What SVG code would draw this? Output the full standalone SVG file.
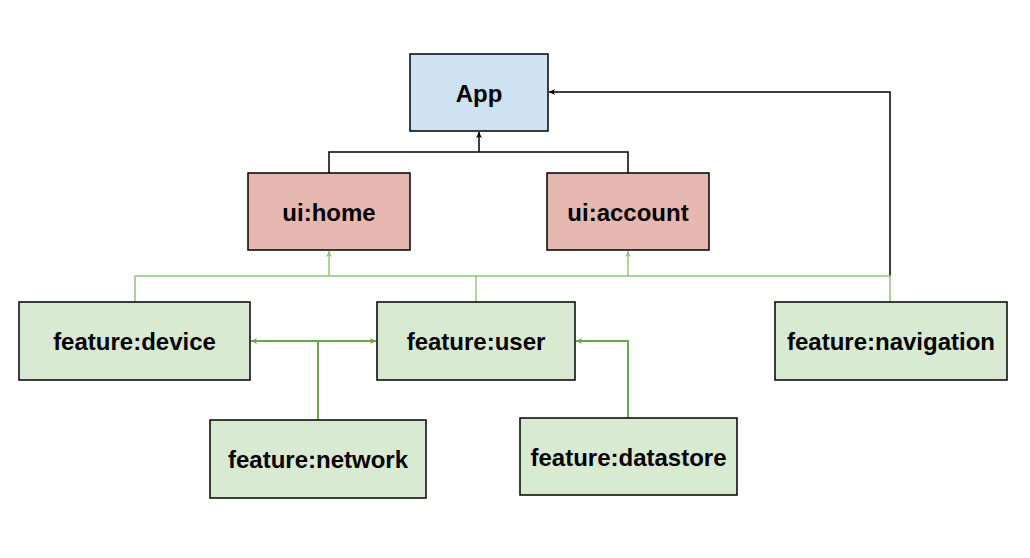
<svg xmlns="http://www.w3.org/2000/svg" width="1030" height="558" viewBox="0 0 1030 558">
<style>
.box{stroke:#000;stroke-width:1.5}
.blue{fill:#cfe2f3}
.red{fill:#e6b8af}
.green{fill:#d9ead3}
.lbl{font-family:"Liberation Sans",Arial,sans-serif;font-weight:bold;font-size:24px;text-anchor:middle;fill:#000}
.cb{fill:none;stroke:#000;stroke-width:1.5}
.cg{fill:none;stroke:#93c47d;stroke-width:1.5}
.cd{fill:none;stroke:#6aa84f;stroke-width:2}
</style>
<defs>
<marker id="ab" markerUnits="userSpaceOnUse" markerWidth="8" markerHeight="8" refX="6" refY="4" orient="auto"><path d="M0,1 L6,4 L0,7 L1.5,4 z" fill="#000"/></marker>
<marker id="ag" markerUnits="userSpaceOnUse" markerWidth="8" markerHeight="8" refX="6" refY="4" orient="auto"><path d="M0,1 L6,4 L0,7 L1.5,4 z" fill="#93c47d"/></marker>
<marker id="ad" markerUnits="userSpaceOnUse" markerWidth="8" markerHeight="8" refX="6" refY="4" orient="auto"><path d="M0,1 L6,4 L0,7 L1.5,4 z" fill="#6aa84f"/></marker>
</defs>
<rect width="1030" height="558" fill="#fff"/>
<g id="connectors">
<path class="cb" d="M329,173 V152 H628 V173"/>
<path class="cb" d="M479,152 V132" marker-end="url(#ab)"/>
<path class="cb" d="M890,276 V92 H549" marker-end="url(#ab)"/>
<path class="cg" d="M135,302 V276 H890 V302"/>
<path class="cg" d="M476,302 V276"/>
<path class="cg" d="M329,276 V251" marker-end="url(#ag)"/>
<path class="cg" d="M628,276 V251" marker-end="url(#ag)"/>
<path class="cd" d="M318,420 V341"/>
<path class="cd" d="M318,341 H251" marker-end="url(#ad)"/>
<path class="cd" d="M318,341 H376" marker-end="url(#ad)"/>
<path class="cd" d="M628,418 V341 H576" marker-end="url(#ad)"/>
</g>
<g id="app"><rect class="box blue" x="410" y="54" width="138" height="77"/><text class="lbl" x="479" y="101.5">App</text></g>
<g id="ui-home"><rect class="box red" x="248" y="173" width="162" height="77"/><text class="lbl" x="329" y="220.5">ui:home</text></g>
<g id="ui-account"><rect class="box red" x="547" y="173" width="162" height="77"/><text class="lbl" x="628" y="220.5">ui:account</text></g>
<g id="feature-device"><rect class="box green" x="19" y="302" width="231" height="78"/><text class="lbl" x="134.5" y="350">feature:device</text></g>
<g id="feature-user"><rect class="box green" x="377" y="302" width="198" height="78"/><text class="lbl" x="476" y="350">feature:user</text></g>
<g id="feature-navigation"><rect class="box green" x="775" y="302" width="232" height="78"/><text class="lbl" x="891" y="350">feature:navigation</text></g>
<g id="feature-network"><rect class="box green" x="210" y="420" width="216" height="78"/><text class="lbl" x="318" y="468">feature:network</text></g>
<g id="feature-datastore"><rect class="box green" x="520" y="418" width="217" height="77"/><text class="lbl" x="628.5" y="465.5">feature:datastore</text></g>
</svg>
